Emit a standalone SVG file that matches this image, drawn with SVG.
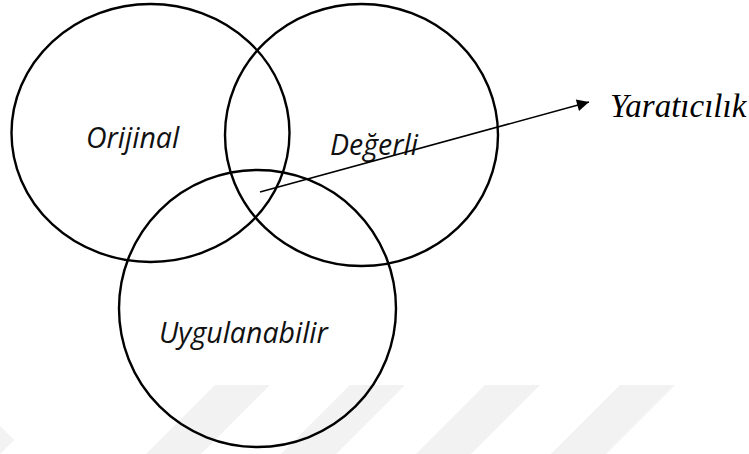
<svg xmlns="http://www.w3.org/2000/svg" width="749" height="454" viewBox="0 0 749 454">
<style>
.c{fill:none;stroke:#000;stroke-width:2.4}
.t{font-family:"Open Sans","Noto Sans",sans-serif;font-style:italic;font-size:28.5px;fill:#111}
.y{font-family:"Liberation Serif","Times New Roman",serif;font-style:italic;font-size:33px;fill:#000}
.w{fill:#f2f2f2}
</style>
<defs>
<marker id="ah" viewBox="0 0 10 10" refX="10" refY="5" markerWidth="15" markerHeight="12" markerUnits="userSpaceOnUse" orient="auto">
<path d="M0,0 L10,5 L0,10 z" fill="#000"/>
</marker>
</defs>
<rect width="749" height="454" fill="#fff"/>
<g id="watermark">
<polygon class="w" points="215,385 270,385 201,454 146,454"/>
<polygon class="w" points="350,385 405,385 336,454 281,454"/>
<polygon class="w" points="485,385 540,385 471,454 416,454"/>
<polygon class="w" points="620,385 675,385 606,454 551,454"/>
<polygon class="w" points="0,426 14,440 0,454"/>
</g>
<g id="orijinal">
<ellipse class="c" cx="150.5" cy="133" rx="139" ry="129"/>
<text class="t" x="86" y="148">Orijinal</text>
</g>
<g id="degerli">
<ellipse class="c" cx="361.5" cy="135" rx="136.5" ry="131"/>
<text class="t" x="330" y="155">Değerli</text>
</g>
<g id="uygulanabilir">
<ellipse class="c" cx="257.5" cy="308.5" rx="138.5" ry="138.5"/>
<text class="t" x="159" y="343">Uygulanabilir</text>
</g>
<g id="connectors">
<line x1="260" y1="192" x2="589" y2="102" stroke="#000" stroke-width="1.5" marker-end="url(#ah)"/>
</g>
<g id="yaraticilik">
<text class="y" x="610" y="117">Yaratıcılık</text>
</g>
</svg>
